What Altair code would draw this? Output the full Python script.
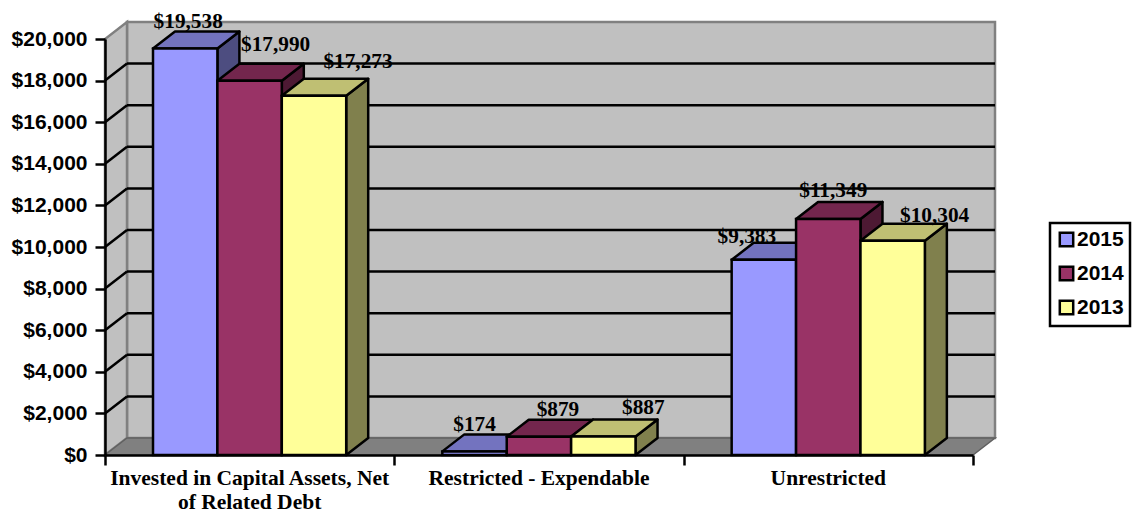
import altair as alt
import pandas as pd

# ---- values
categories = ["Invested in Capital Assets, Net|of Related Debt", "Restricted - Expendable", "Unrestricted"]
series = ["2015", "2014", "2013"]
values_2015 = [19538, 174, 9383]
values_2014 = [17990, 879, 11349]
values_2013 = [17273, 887, 10304]
y_ticks = list(range(0, 20001, 2000))
colors = ["#9999FF", "#993366", "#FFFF99"]
top_colors = ["#7373BF", "#73264D", "#BFBF73"]
side_colors = ["#4D4D80", "#4D1933", "#80804D"]

# ---- pseudo-3D geometry, in scale units
PX_X = 868 / 3          # pixels per category
PX_Y = 416 / 20000      # pixels per dollar
DX = 22 / PX_X          # depth, x
DY = 17 / PX_Y          # depth, y
GAP = 48 / PX_X
BAR = 64.4 / PX_X

# hand placement of the value labels relative to bar centre/top (pixels)
label_shift = {
    ("2015", 0): (3, 21), ("2014", 0): (26, 30), ("2013", 0): (44, 28),
    ("2015", 1): (0, 20), ("2014", 1): (19, 21), ("2013", 1): (40, 23),
    ("2015", 2): (-17, 17), ("2014", 2): (5, 22), ("2013", 2): (42, 19),
}

xs = alt.Scale(domain=[0, 3], nice=False, zero=False)
ys = alt.Scale(domain=[0, 20000], nice=False, zero=False)
x_axis = alt.Axis(values=[0, 1, 2, 3], labels=False, title=None, grid=False, zindex=1,
                  tickColor="black", tickWidth=2.5, tickSize=10,
                  domainColor="black", domainWidth=2.5)
y_axis = alt.Axis(values=y_ticks, format="$,.0f", title=None, grid=False, zindex=1,
                  labelFont="Liberation Sans", labelFontWeight="bold", labelFontSize=21,
                  labelColor="black", labelPadding=8, labelOverlap=False,
                  tickColor="black", tickWidth=2.5, tickSize=10,
                  domainColor="black", domainWidth=2.5)


def X(f):
    return alt.X(f"{f}:Q", scale=xs, axis=x_axis, stack=None)


def Y(f):
    return alt.Y(f"{f}:Q", scale=ys, axis=y_axis, stack=None)


WALL = "#C0C0C0"
EDGE = "#808080"
SW = 2.5

# walls and floor
back_wall = alt.Chart(pd.DataFrame({"x": [DX], "x2": [3 + DX], "y": [DY], "y2": [20000 + DY]})).mark_rect(
    fill=WALL, stroke=EDGE, strokeWidth=SW
).encode(x=X("x"), x2="x2:Q", y=Y("y"), y2="y2:Q")

left_wall = alt.Chart(pd.DataFrame({"x": [0, DX], "y": [0, DY], "y2": [20000, 20000 + DY]})).mark_area(
    orient="vertical", fill=WALL, stroke=EDGE, strokeWidth=SW
).encode(x=X("x"), y=Y("y"), y2="y2:Q")

floor = alt.Chart(pd.DataFrame({"x": [0, DX], "x2": [3, 3 + DX], "y": [0, DY]})).mark_area(
    orient="horizontal", fill=EDGE, stroke="#606060", strokeWidth=1.5
).encode(x=X("x"), x2="x2:Q", y=Y("y"))

grid_vals = y_ticks[1:-1]
grid_back = alt.Chart(pd.DataFrame({"x": [DX] * len(grid_vals), "x2": [3 + DX] * len(grid_vals),
                                    "y": [v + DY for v in grid_vals]})).mark_rule(
    color="black", strokeWidth=SW
).encode(x=X("x"), x2="x2:Q", y=Y("y"))

diag_rows = []
for v in grid_vals:
    diag_rows += [{"g": v, "x": 0, "y": v}, {"g": v, "x": DX, "y": v + DY}]
grid_diag = alt.Chart(pd.DataFrame(diag_rows)).mark_line(color="black", strokeWidth=SW).encode(
    x=X("x"), y=Y("y"), detail="g:N"
)

layers = [back_wall, left_wall, floor, grid_back, grid_diag]

# bars: side, top, front for each series, back to front
all_values = [values_2015, values_2014, values_2013]
label_rows = []
for s, (name, vals) in enumerate(zip(series, all_values)):
    side, top, front = [], [], []
    for g, v in enumerate(vals):
        x0 = g + GAP + s * BAR
        x1 = x0 + BAR
        side += [{"g": g, "x": x1, "y": v, "y2": 0}, {"g": g, "x": x1 + DX, "y": v + DY, "y2": DY}]
        top += [{"g": g, "x": x0, "x2": x1, "y": v}, {"g": g, "x": x0 + DX, "x2": x1 + DX, "y": v + DY}]
        front.append({"series": name, "x": x0, "x2": x1, "y": v, "y2": 0})
        sx, sy = label_shift[(name, g)]
        label_rows.append({"x": (x0 + x1) / 2 + sx / PX_X, "y": v + sy / PX_Y, "t": f"${v:,}"})
    layers.append(alt.Chart(pd.DataFrame(side)).mark_area(
        orient="vertical", fill=side_colors[s], stroke="black", strokeWidth=SW, strokeJoin="round"
    ).encode(x=X("x"), y=Y("y"), y2="y2:Q", detail="g:N"))
    layers.append(alt.Chart(pd.DataFrame(top)).mark_area(
        orient="horizontal", fill=top_colors[s], stroke="black", strokeWidth=SW, strokeJoin="round"
    ).encode(x=X("x"), x2="x2:Q", y=Y("y"), detail="g:N"))
    layers.append(alt.Chart(pd.DataFrame(front)).mark_rect(
        stroke="black", strokeWidth=SW
    ).encode(
        x=X("x"), x2="x2:Q", y=Y("y"), y2="y2:Q",
        fill=alt.Fill("series:N", scale=alt.Scale(domain=series, range=colors),
                      legend=alt.Legend(title=None, orient="none", legendX=945, legendY=184,
                                        symbolType="square", symbolSize=180,
                                        symbolStrokeColor="black", symbolStrokeWidth=2.5,
                                        labelFont="Liberation Sans", labelFontWeight="bold",
                                        labelFontSize=21, labelColor="black",
                                        labelExpr="datum.label + ' '",
                                        rowPadding=9, labelOffset=0, padding=6,
                                        fillColor="white", strokeColor="black"))
    ))

value_labels = alt.Chart(pd.DataFrame(label_rows)).mark_text(
    font="Liberation Serif", fontWeight="bold", fontSize=21.3, color="black",
    align="center", baseline="alphabetic"
).encode(x=X("x"), y=Y("y"), text="t:N")
layers.append(value_labels)

cat_labels = alt.Chart(pd.DataFrame({"x": [0.5, 1.5, 2.5], "t": categories})).mark_text(
    font="Liberation Serif", fontWeight="bold", fontSize=21.5, color="black",
    align="center", baseline="alphabetic", lineBreak="|", lineHeight=24
).encode(x=X("x"), y=alt.value(446), text="t:N")
layers.append(cat_labels)

chart = alt.layer(*layers).properties(
    width=868, height=416,
    padding={"left": 97, "top": 31, "right": 160, "bottom": 59},
    autosize=alt.AutoSizeParams(type="none"),
    background="white",
).configure_view(stroke=None).configure_legend(strokeWidth=2.5)

chart.save("out.html", embed_options={"renderer": "svg", "actions": False})
